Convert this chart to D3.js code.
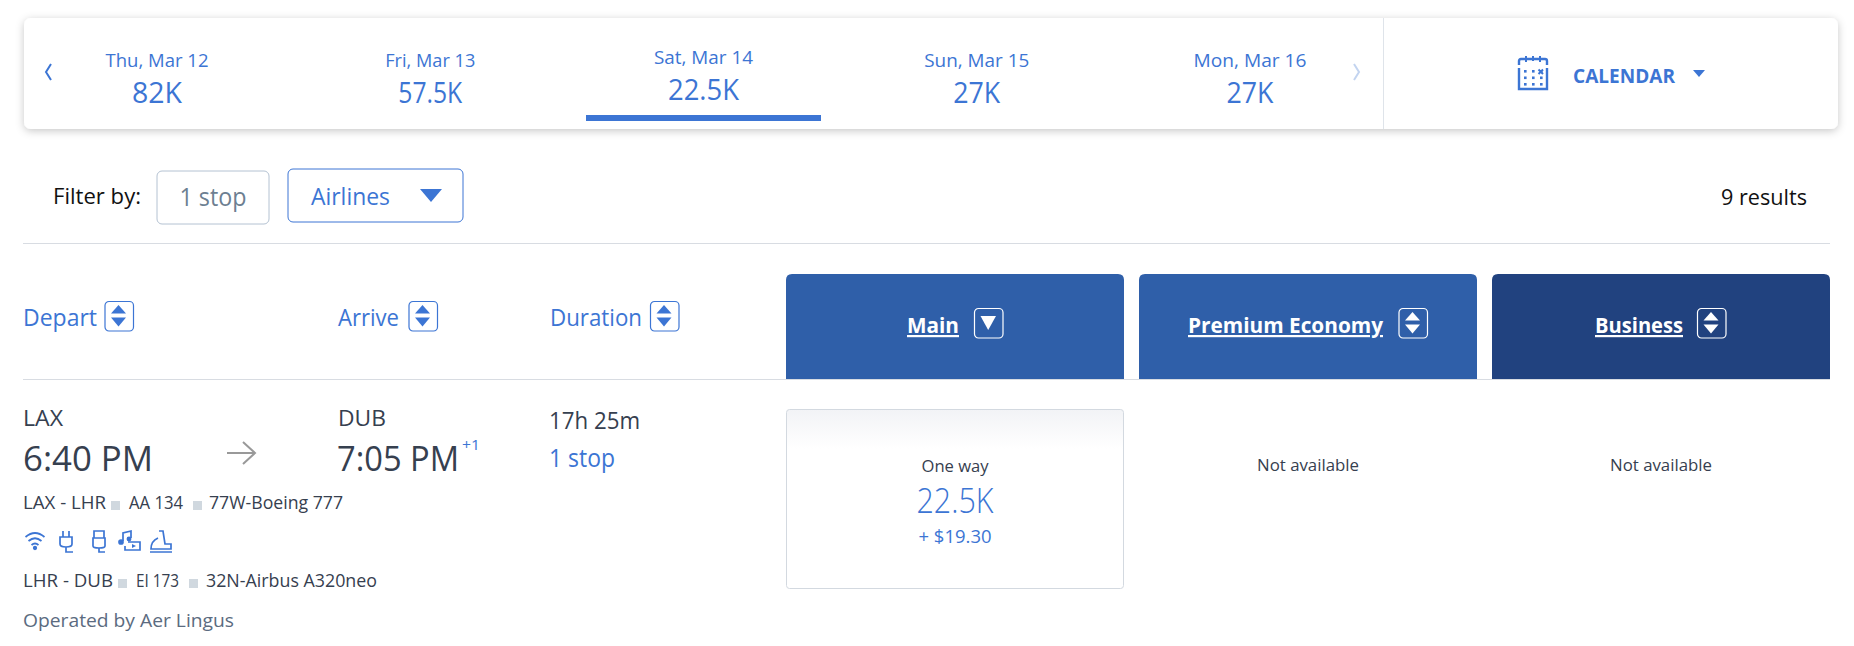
<!DOCTYPE html>
<html>
<head>
<meta charset="utf-8">
<script src="https://cdn.jsdelivr.net/npm/d3@7"></script>
<style>
  body { margin: 0; background: #fff; }
  text { font-family: "Open Sans", "Noto Sans", sans-serif; }
</style>
</head>
<body>
<div id="chart_svg"></div>
<script>
// values
const dates = ["Thu, Mar 12", "Fri, Mar 13", "Sat, Mar 14", "Sun, Mar 15", "Mon, Mar 16"]
const prices = ["82K", "57.5K", "22.5K", "27K", "27K"]
const selectedDate = "Sat, Mar 14"
const cabins = ["Main", "Premium Economy", "Business"]
const cabinFill = ["#2f5fa9", "#2f5fa9", "#21427f"]
const cabinNote = ["", "Not available", "Not available"]
const sortCols = ["Depart", "Arrive", "Duration"]
const segments = [
  ["LAX - LHR", "AA 134", "77W-Boeing 777"],
  ["LHR - DUB", "EI 173", "32N-Airbus A320neo"]
]

const totalWidth = 1854
const totalHeight = 646
const blue = "#3c75d4"
const dark = "#36404f"

var sVg = d3.select("#chart_svg")
  .append("svg")
  .attr("width", totalWidth)
  .attr("height", totalHeight)
  .style("display", "block")

var defs = sVg.append("defs")
var blur = defs.append("filter").attr("id", "shadow")
  .attr("x", "-2%").attr("y", "-20%").attr("width", "104%").attr("height", "140%")
blur.append("feDropShadow").attr("dx", 0).attr("dy", 2).attr("stdDeviation", 4)
  .attr("flood-color", "#000").attr("flood-opacity", 0.22)
var grad = defs.append("linearGradient").attr("id", "fareTop")
  .attr("x1", 0).attr("y1", 0).attr("x2", 0).attr("y2", 1)
grad.append("stop").attr("offset", "0%").attr("stop-color", "#f2f3f6")
grad.append("stop").attr("offset", "22%").attr("stop-color", "#fff")

// the original face is narrower than Open Sans, so each text gets the width it has in the picture
function label(x, y, str, size, color, anchor, weight, width) {
  var t = sVg.append("text")
    .attr("x", x).attr("y", y)
    .attr("font-size", size)
    .attr("fill", color)
    .attr("text-anchor", anchor || "start")
    .attr("font-weight", weight || 400)
    .text(str)
  if (width) t.attr("textLength", width).attr("lengthAdjust", "spacingAndGlyphs")
  return t
}

// up/down arrows in a small rounded box
function sortBox(x, y, color, onlyDown) {
  var g = sVg.append("g").attr("transform", "translate(" + x + "," + y + ")")
  g.append("rect").attr("x", 0.5).attr("y", 0.5).attr("width", 28.5).attr("height", 29.5).attr("rx", 4)
    .attr("fill", "none").attr("stroke", color).attr("stroke-width", 1.2)
  if (onlyDown) {
    g.append("path").attr("d", "M6.5,8H22L14.2,22Z").attr("fill", color)
  } else {
    g.append("path").attr("d", "M6.5,12.5H21.5L14,4Z").attr("fill", color)
    g.append("path").attr("d", "M6.5,16.5H21.5L14,25.5Z").attr("fill", color)
  }
}

// date strip
sVg.append("rect").attr("x", 24).attr("y", 18).attr("width", 1814).attr("height", 111).attr("rx", 7)
  .attr("fill", "#fff").attr("filter", "url(#shadow)")
sVg.append("line").attr("x1", 1383.5).attr("x2", 1383.5).attr("y1", 18).attr("y2", 129)
  .attr("stroke", "#dfe4ea")

var dateWidth = [103, 90, 99, 105, 113]
var priceWidth = [50, 64, 71, 47, 47]
var xDate = d3.scalePoint().domain(dates).range([157, 1250])
dates.forEach(function(d, i) {
  var up = d === selectedDate ? 3 : 0
  label(xDate(d), 67 - up, d, 19, blue, "middle", 400, dateWidth[i])
  label(xDate(d), 103 - up, prices[i], 30, blue, "middle", 400, priceWidth[i])
})
sVg.append("rect").attr("x", xDate(selectedDate) - 117.5).attr("y", 115).attr("width", 235).attr("height", 6)
  .attr("fill", blue)

sVg.append("path").attr("d", "M51,64L46,72L51,80").attr("fill", "none").attr("stroke", blue).attr("stroke-width", 2)
sVg.append("path").attr("d", "M1354,64L1359,72L1354,80").attr("fill", "none").attr("stroke", "#c3d4f0").attr("stroke-width", 2)

// calendar icon
var cal = sVg.append("g").attr("transform", "translate(1518,56)").attr("fill", "none").attr("stroke", blue).attr("stroke-width", 2.4)
cal.append("path").attr("d", "M1,9V5Q1,3 3,3H27Q29,3 29,5V9")
cal.append("path").attr("d", "M8,0V6M15,0V5M22,0V6").attr("stroke-width", 2)
cal.append("path").attr("d", "M1,12V33H29V12")
cal.selectAll("rect").data(d3.range(9)).join("rect")
  .attr("x", function(d) { return 6 + (d % 3) * 8 })
  .attr("y", function(d) { return 14 + Math.floor(d / 3) * 6.5 })
  .attr("width", 2.6).attr("height", 2.6).attr("fill", blue).attr("stroke", "none")
cal.append("path").attr("d", "M20.5,13.5L25,18M25,13.5L20.5,18").attr("stroke-width", 2)
label(1573, 83, "CALENDAR", 19, blue, "start", 700, 102)
sVg.append("path").attr("d", "M1693,70H1705L1699,77Z").attr("fill", blue)

// filter row
label(53, 204, "Filter by:", 22, "#111", "start", 400, 88)
sVg.append("rect").attr("x", 157).attr("y", 171).attr("width", 112).attr("height", 53).attr("rx", 5)
  .attr("fill", "#fff").attr("stroke", "#b4c2d2")
label(213, 206, "1 stop", 25, "#6d7f92", "middle", 400, 67)
sVg.append("rect").attr("x", 288).attr("y", 169).attr("width", 175).attr("height", 53).attr("rx", 5)
  .attr("fill", "#fff").attr("stroke", blue)
label(311, 205, "Airlines", 24, blue, "start", 400, 79)
sVg.append("path").attr("d", "M420,189H442L431,202Z").attr("fill", blue)
label(1807, 205, "9 results", 22, "#111", "end", 400, 86)

sVg.append("line").attr("x1", 23).attr("x2", 1830).attr("y1", 243.5).attr("y2", 243.5).attr("stroke", "#d8dce2")

// sortable headings
var sortX = [23, 338, 550]
var sortWidth = [74, 61, 92]
var sortBoxX = [104.5, 408.5, 650]
sortCols.forEach(function(d, i) {
  label(sortX[i], 326, d, 24, blue, "start", 400, sortWidth[i])
  sortBox(sortBoxX[i], 301, blue)
})

// cabin columns
var xCabin = d3.scaleBand().domain(cabins).range([786, 1830]).paddingInner(15 / 353)
var tabLabelX = [933, 1285.5, 1639]
var tabWidth = [52, 195, 88]
var tabBoxX = [974, 1398.5, 1697]
cabins.forEach(function(d, i) {
  var x0 = xCabin(d), w = xCabin.bandwidth()
  sVg.append("path")
    .attr("d", "M" + x0 + ",379V280Q" + x0 + ",274 " + (x0 + 6) + ",274H" + (x0 + w - 6) + "Q" + (x0 + w) + ",274 " + (x0 + w) + ",280V379Z")
    .attr("fill", cabinFill[i])
  label(tabLabelX[i], 333, d, 22, "#fff", "middle", 700, tabWidth[i]).style("text-decoration", "underline")
  sortBox(tabBoxX[i], 308, "#fff", i === 0)
})
sVg.append("line").attr("x1", 23).attr("x2", 1830).attr("y1", 379.5).attr("y2", 379.5).attr("stroke", "#d8dce2")

// flight row
label(23, 426, "LAX", 21, dark, "start", 400, 40)
label(23, 471, "6:40 PM", 34, dark, "start", 400, 130)
sVg.append("path").attr("d", "M227,453H254M243,442L255,453L243,464").attr("fill", "none").attr("stroke", "#999").attr("stroke-width", 2)
label(338, 426, "DUB", 21, dark, "start", 400, 48)
label(337, 471, "7:05 PM", 34, dark, "start", 400, 122)
label(462, 450, "+1", 15, blue, "start", 400, 18)
label(549, 429, "17h 25m", 24, dark, "start", 400, 91)
label(549, 467, "1 stop", 25, blue, "start", 400, 66)

// segment lines
var segmentY = [509, 587]
var segmentX = [[23, 129, 209], [23, 136, 206]]
var segmentW = [[83, 54, 134], [90, 43, 171]]
var squareX = [[111, 193], [118, 189]]
segments.forEach(function(seg, i) {
  seg.forEach(function(s, j) {
    label(segmentX[i][j], segmentY[i], s, 19, dark, "start", 400, segmentW[i][j])
  })
  squareX[i].forEach(function(x) {
    sVg.append("rect").attr("x", x).attr("y", segmentY[i] - 8).attr("width", 9).attr("height", 9).attr("fill", "#d0d8df")
  })
})
label(23, 627, "Operated by Aer Lingus", 19, "#5b6b80", "start", 400, 211)

// amenity icons
var icons = sVg.append("g").attr("fill", "none").attr("stroke", blue).attr("stroke-width", 1.7)
icons.append("path").attr("d", "M25.5,537Q35,529 44.5,537M28.5,541Q35,535.5 41.5,541M31.5,545Q35,542 38.5,545")
icons.append("circle").attr("cx", 35).attr("cy", 548).attr("r", 1.3).attr("fill", blue)
icons.append("path").attr("d", "M63,531V537M69,531V537M60,537H72V544Q72,547 66,547Q60,547 60,544ZM66,547V552H73")
icons.append("path").attr("d", "M94,531H104V538H94ZM93,538H105V546Q105,548 99,548Q93,548 93,546ZM99,548V552H105")
icons.append("path").attr("d", "M123,541V533L131,531V538M128,542H140V550H125V546")
icons.append("circle").attr("cx", 121).attr("cy", 542).attr("r", 2).attr("fill", blue)
icons.append("circle").attr("cx", 129).attr("cy", 539).attr("r", 1.6).attr("fill", blue)
icons.append("path").attr("d", "M132,544L136,546L132,548Z").attr("fill", blue).attr("stroke", "none")
icons.append("path").attr("d", "M159,531H163L165,544H171V549H151Q151,541 158,538M150,552H172")

// fare box
var mainX = xCabin("Main")
sVg.append("rect").attr("x", mainX + 0.5).attr("y", 409.5).attr("width", xCabin.bandwidth() - 1).attr("height", 179).attr("rx", 3)
  .attr("fill", "url(#fareTop)").attr("stroke", "#d3d9e0")
var mainMid = mainX + xCabin.bandwidth() / 2
label(mainMid, 472, "One way", 17, dark, "middle", 400, 67)
label(mainMid, 513, "22.5K", 34, blue, "middle", 300, 77)
label(mainMid, 543, "+ $19.30", 19, blue, "middle", 400, 73)
cabins.forEach(function(d, i) {
  if (cabinNote[i]) label(xCabin(d) + xCabin.bandwidth() / 2, 471, cabinNote[i], 17, dark, "middle", 400, 102)
})
</script>
</body>
</html>
